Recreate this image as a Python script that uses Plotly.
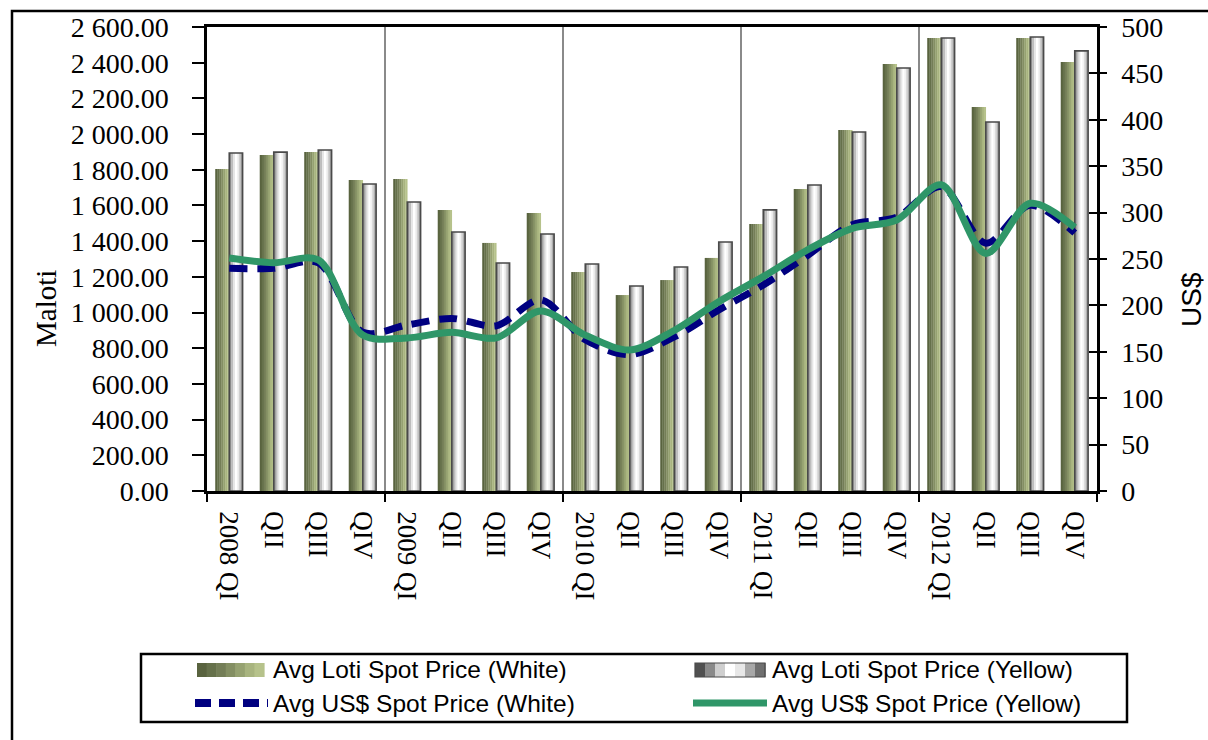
import plotly.graph_objects as go
import numpy as np

# ---------------- data ----------------
categories = ["2008 QI", "QII", "QIII", "QIV",
              "2009 QI", "QII", "QIII", "QIV",
              "2010 QI", "QII", "QIII", "QIV",
              "2011 QI", "QII", "QIII", "QIV",
              "2012 QI", "QII", "QIII", "QIV"]
loti_white = [1804, 1883, 1900, 1743, 1748, 1575, 1390, 1558, 1227, 1098,
              1182, 1306, 1496, 1692, 2023, 2393, 2538, 2152, 2538, 2404]
loti_yellow = [1894, 1899, 1911, 1720, 1619, 1451, 1278, 1440, 1272, 1149,
               1255, 1395, 1575, 1715, 2012, 2370, 2538, 2068, 2544, 2466]
usd_white = [240, 240, 246, 171, 179, 186, 178, 206, 163, 147,
             166, 195, 222, 254, 287, 295, 328, 267, 308, 278]
usd_yellow = [251, 246, 249, 168, 165, 171, 165, 194, 168, 152,
              173, 204, 231, 260, 283, 292, 330, 256, 310, 284]
legend_names = ["Avg Loti Spot Price (White)", "Avg Loti Spot Price (Yellow)",
                "Avg US$ Spot Price (White)", "Avg US$ Spot Price (Yellow)"]
left_title = "Maloti"
right_title = "US$"

# ---------------- layout constants ----------------
W, H = 1208, 740
L, R, T, B = 207, 111, 27, 249
PW, PH = W - L - R, H - T - B


def xp(px):
    return (px - L) / PW


def yp(py):
    return (T + PH - py) / PH


SERIF = "Liberation Serif"
SANS = "Liberation Sans"
green_cols = ["#59633f", "#66714b", "#747e57", "#848f63", "#96a271", "#a8b47f", "#b6c28b"]
gray_cols = ["#8e8e8e", "#bdbdbd", "#e6e6e6", "#ffffff", "#f2f2f2", "#cfcfcf", "#a0a0a0"]
NAVY = "#000080"
SEA = "#2f9668"

x = np.arange(len(categories))
fig = go.Figure()

GW = 0.315   # white bar width (category units)
YW = 0.30    # yellow bar width
ns = len(green_cols)
for k, c in enumerate(green_cols):
    fig.add_trace(go.Bar(x=x, y=loti_white, width=GW / ns * 1.15, offset=-GW + k * GW / ns,
                         marker=dict(color=c, line=dict(width=0)), showlegend=False,
                         hoverinfo="skip"))
for k, c in enumerate(gray_cols):
    fig.add_trace(go.Bar(x=x, y=loti_yellow, width=YW / ns * 1.15, offset=k * YW / ns,
                         marker=dict(color=c, line=dict(width=0)), showlegend=False,
                         hoverinfo="skip"))
# checkered border of yellow bars
fig.add_trace(go.Bar(x=x, y=loti_yellow, width=YW, offset=0,
                     marker=dict(color="rgba(0,0,0,0)", line=dict(color="#4a4a4a", width=1.6)),
                     showlegend=False, name=legend_names[1]))

fig.add_trace(go.Scatter(x=x, y=usd_white, yaxis="y2", mode="lines", name=legend_names[2],
                         line=dict(color=NAVY, width=7, dash="18px,10px", shape="spline", smoothing=0.9),
                         showlegend=False))
fig.add_trace(go.Scatter(x=x, y=usd_yellow, yaxis="y2", mode="lines", name=legend_names[3],
                         line=dict(color=SEA, width=7, shape="spline", smoothing=0.9),
                         showlegend=False))

# ---------------- axes ----------------
fig.update_layout(
    width=W, height=H,
    margin=dict(l=L, r=R, t=T, b=B, pad=0, autoexpand=False),
    paper_bgcolor="white", plot_bgcolor="white",
    separators=". ",
    barmode="overlay",
    showlegend=False,
    xaxis=dict(range=[-0.5, len(categories) - 0.5], tickmode="array", tickvals=x,
               ticktext=categories, tickangle=90, ticks="", showgrid=False, zeroline=False,
               showline=True, linecolor="black", linewidth=2.5, mirror=True, automargin=False,
               tickfont=dict(family=SERIF, size=27, color="black"),
               ticklabelstandoff=12,
               minor=dict(tick0=-0.5, dtick=4, ticks="outside", ticklen=8, tickwidth=2,
                          tickcolor="black", showgrid=True, gridcolor="#8a8a8a", gridwidth=2)),
    yaxis=dict(range=[0, 2600], dtick=200, tickformat=",.2f", ticks="outside", ticklen=12,
               tickwidth=2, tickcolor="black", showgrid=False, zeroline=False, automargin=False,
               showline=True, linecolor="black", linewidth=2.5,
               tickfont=dict(family=SERIF, size=28, color="black"), ticklabelstandoff=18),
    yaxis2=dict(range=[0, 500], dtick=50, overlaying="y", side="right", ticks="outside",
                ticklen=7, tickwidth=2, tickcolor="black", showgrid=False, zeroline=False,
                showline=True, linecolor="black", linewidth=2.5, automargin=False,
                tickfont=dict(family=SERIF, size=28, color="black"), ticklabelstandoff=9),
    yaxis3=dict(range=[0, 500], dtick=50, overlaying="y", side="right", ticks="inside",
                ticklen=8, tickwidth=2, tickcolor="black", showgrid=False, zeroline=False,
                showticklabels=False, showline=False, automargin=False),
)
# dummy trace to activate yaxis3 (inside part of crossing ticks)
fig.add_trace(go.Scatter(x=[x[0]], y=[None], yaxis="y3", showlegend=False, hoverinfo="skip"))

# ---------------- frame and legend ----------------
shapes = []
shapes.append(dict(type="rect", xref="paper", yref="paper", x0=xp(12), x1=xp(1216),
                   y0=yp(748), y1=yp(11), line=dict(color="black", width=2.5),
                   fillcolor="rgba(0,0,0,0)", layer="below"))
shapes.append(dict(type="rect", xref="paper", yref="paper", x0=xp(141), x1=xp(1127),
                   y0=yp(722), y1=yp(654), line=dict(color="black", width=2.5),
                   fillcolor="white", layer="below"))
# legend symbol: white bars (gradient)
sx0, sx1 = 197, 264
sw = (sx1 - sx0) / ns
for k, c in enumerate(green_cols):
    shapes.append(dict(type="rect", xref="paper", yref="paper",
                       x0=xp(sx0 + k * sw), x1=xp(sx0 + (k + 1) * sw + 0.6),
                       y0=yp(677), y1=yp(663), line=dict(width=0), fillcolor=c))
sx0, sx1 = 695, 765
sw = (sx1 - sx0) / ns
gray_leg = ["#505050", "#8a8a8a", "#cfcfcf", "#ffffff", "#e8e8e8", "#a8a8a8", "#707070"]
for k, c in enumerate(gray_leg):
    shapes.append(dict(type="rect", xref="paper", yref="paper",
                       x0=xp(sx0 + k * sw), x1=xp(sx0 + (k + 1) * sw + 0.6),
                       y0=yp(677), y1=yp(663), line=dict(width=0), fillcolor=c))
shapes.append(dict(type="rect", xref="paper", yref="paper", x0=xp(695), x1=xp(765),
                   y0=yp(677), y1=yp(663), line=dict(color="#4a4a4a", width=1.2),
                   fillcolor="rgba(0,0,0,0)"))
shapes.append(dict(type="line", xref="paper", yref="paper", x0=xp(195), x1=xp(268),
                   y0=yp(703), y1=yp(703), line=dict(color=NAVY, width=8, dash="16px,8px")))
shapes.append(dict(type="line", xref="paper", yref="paper", x0=xp(693), x1=xp(767),
                   y0=yp(703), y1=yp(703), line=dict(color=SEA, width=7)))

annotations = []
for name, px_, py_ in [(legend_names[0], 271, 669), (legend_names[1], 770, 669),
                       (legend_names[2], 271, 703), (legend_names[3], 770, 703)]:
    annotations.append(dict(text=name, xref="paper", yref="paper", x=xp(px_), y=yp(py_),
                            xanchor="left", yanchor="middle", showarrow=False,
                            font=dict(family=SANS, size=24.5, color="black")))
# axis titles
annotations.append(dict(text=left_title, xref="paper", yref="paper", x=xp(46), y=yp(309),
                        xanchor="center", yanchor="middle", textangle=-90, showarrow=False,
                        font=dict(family=SERIF, size=29, color="black")))
annotations.append(dict(text=right_title, xref="paper", yref="paper", x=xp(1191), y=yp(300),
                        xanchor="center", yanchor="middle", textangle=-90, showarrow=False,
                        font=dict(family=SANS, size=28, color="black")))

fig.update_layout(shapes=shapes, annotations=annotations)

fig.write_html("out.html", config={"displayModeBar": False},
               post_script="document.body.style.margin='0px';document.body.style.overflow='hidden';")
